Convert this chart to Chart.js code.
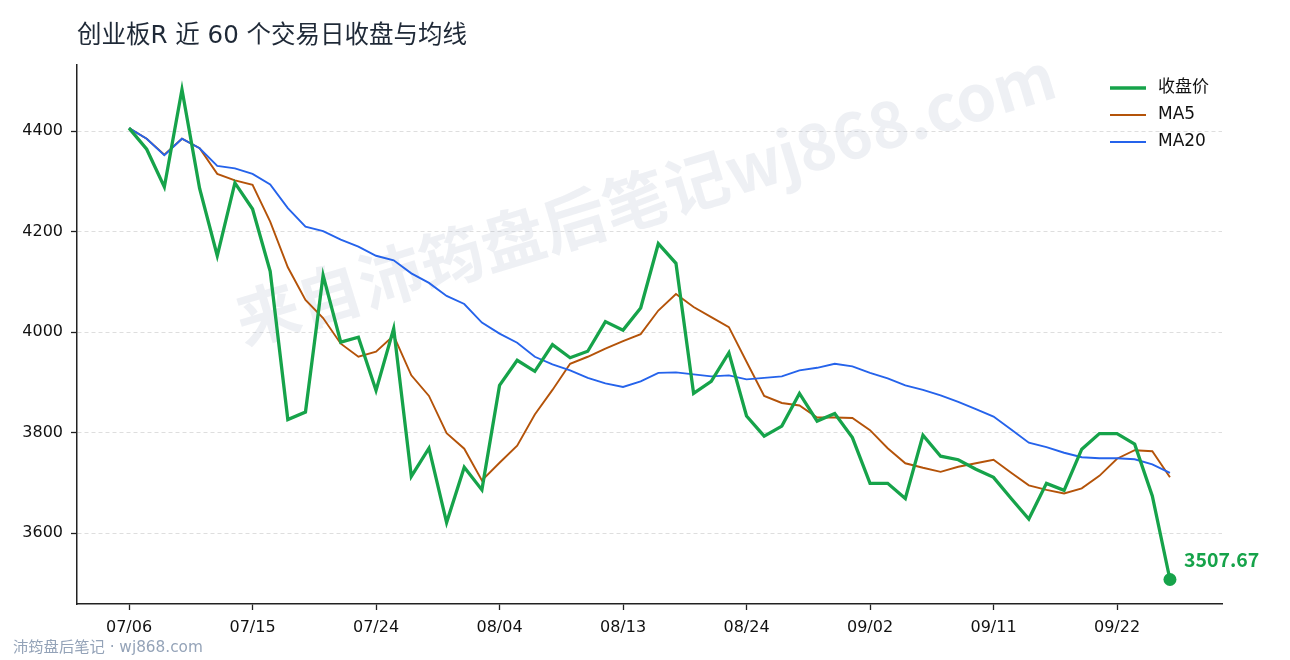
<!DOCTYPE html>
<html>
<head>
<meta charset="utf-8">
<script src="https://cdn.jsdelivr.net/npm/chart.js@4.4.1/dist/chart.umd.min.js"></script>
<style>
html,body{margin:0;padding:0;background:#fff;}
#c{display:block;}
</style>
</head>
<body>
<canvas id="c" width="1290" height="660"></canvas>
<script>
// data
const dates = ["07/06","07/07","07/08","07/09","07/10","07/13","07/14","07/15","07/16","07/17",
  "07/20","07/21","07/22","07/23","07/24","07/27","07/28","07/29","07/30","07/31",
  "08/03","08/04","08/05","08/06","08/07","08/10","08/11","08/12","08/13","08/14",
  "08/17","08/18","08/19","08/20","08/21","08/24","08/25","08/26","08/27","08/28",
  "08/31","09/01","09/02","09/03","09/04","09/07","09/08","09/09","09/10","09/11",
  "09/14","09/15","09/16","09/17","09/18","09/21","09/22","09/23","09/24","09/25"];
const closeVals = [4406,4364,4289,4483,4286,4152,4297,4245,4121,3826,
  3841,4113,3980,3990,3884,4007,3713,3769,3621,3731,
  3686,3894,3944,3922,3975,3949,3962,4021,4004,4048,
  4176,4137,3878,3902,3959,3833,3793,3813,3878,3823,
  3838,3790,3699,3699,3669,3795,3753,3746,3727,3711,
  3669,3628,3699,3685,3767,3798,3798,3777,3674,3507.67];
const ma5Vals = [4406,4385,4353,4385,4366,4315,4302,4293,4220,4129,
  4064,4028,3977,3951,3961,3993,3914,3873,3799,3768,
  3705,3740,3774,3836,3885,3937,3951,3967,3982,3996,
  4043,4076,4050,4030,4010,3941,3873,3859,3854,3830,
  3830,3829,3805,3769,3739,3730,3722,3732,3739,3746,
  3720,3695,3686,3679,3689,3714,3748,3765,3763,3711];
const ma20Vals = [4406,4385,4352,4385,4366,4331,4326,4315,4294,4247,
  4210,4201,4184,4170,4152,4143,4117,4098,4072,4056,
  4019,3997,3979,3951,3936,3924,3909,3898,3891,3902,
  3919,3920,3916,3912,3914,3906,3909,3912,3924,3929,
  3937,3932,3919,3908,3894,3885,3874,3861,3847,3832,
  3806,3780,3771,3760,3751,3749,3749,3747,3737,3720];
const seriesNames = ["收盘价","MA5","MA20"];
const yTickVals = [3600,3800,4000,4200,4400];
const xTickIdx = [0,7,14,21,28,35,42,49,56];
const titleText = "创业板R 近 60 个交易日收盘与均线";
const footerText = "沛筠盘后笔记 · wj868.com";
const watermarkText = "来自沛筠盘后笔记wj868.com";

// latin from DejaVu, CJK falls back to Noto
const FONT = '"DejaVu Sans","Noto Sans CJK SC",sans-serif';
const CJK = '"Noto Sans CJK SC","DejaVu Sans",sans-serif';
const GREEN = '#16a34a', ORANGE = '#b45309', BLUE = '#2563eb';

function pts(arr){ return arr.map((v,i)=>({x:i, y:v})); }
const last = closeVals.length - 1;

// titles, watermark, legend and last value label
const decor = {
  id: 'decor',
  beforeDatasetsDraw(chart){
    const ctx = chart.ctx;
    ctx.save();
    ctx.translate(645, 198);
    ctx.rotate(-17*Math.PI/180);
    ctx.font = 'bold 64px ' + CJK;
    ctx.fillStyle = 'rgba(160,170,195,0.18)';
    ctx.textAlign = 'center'; ctx.textBaseline = 'middle';
    ctx.fillText(watermarkText, 0, 0);
    ctx.restore();
  },
  afterDraw(chart){
    const ctx = chart.ctx;
    ctx.save();
    ctx.textBaseline = 'middle'; ctx.textAlign = 'left';
    ctx.font = '24.5px ' + FONT; ctx.fillStyle = '#1f2937';
    ctx.fillText(titleText, 77, 37);
    ctx.font = '15.3px ' + FONT; ctx.fillStyle = '#94a3b8';
    ctx.fillText(footerText, 13, 648);

    // legend inside the plot, top right
    [0,1,2].forEach((k,r)=>{
      const ds = chart.data.datasets[k];
      const y = 88 + r*27;
      ctx.strokeStyle = ds.borderColor; ctx.lineWidth = ds.borderWidth;
      ctx.beginPath(); ctx.moveTo(1110, y); ctx.lineTo(1146, y); ctx.stroke();
      ctx.fillStyle = '#111'; ctx.font = '17px ' + FONT;
      ctx.fillText(ds.label, 1158, y);
    });

    // label for the last close
    const p = chart.getDatasetMeta(0).data[last];
    ctx.font = 'bold 19.5px ' + CJK; ctx.fillStyle = GREEN;
    ctx.fillText(closeVals[last].toFixed(2), p.x + 14, p.y - 20);
    ctx.restore();
  }
};

new Chart(document.getElementById('c'), {
  type: 'line',
  data: {
    datasets: [
      { label: seriesNames[0], data: pts(closeVals), borderColor: GREEN, backgroundColor: GREEN, borderWidth: 3.3, order: 0,
        pointRadius: ctx => ctx.dataIndex === last ? 6.5 : 0, pointBorderWidth: 0, pointBackgroundColor: GREEN },
      { label: seriesNames[1], data: pts(ma5Vals), borderColor: ORANGE, borderWidth: 1.9, pointRadius: 0, order: 2 },
      { label: seriesNames[2], data: pts(ma20Vals), borderColor: BLUE, borderWidth: 1.9, pointRadius: 0, order: 1 }
    ]
  },
  options: {
    responsive: false,
    animation: false,
    devicePixelRatio: 1,
    layout: { padding: { top: 65, right: 68, bottom: 0, left: 0 } },
    elements: { line: { tension: 0 } },
    plugins: { legend: { display: false }, tooltip: { enabled: false }, title: { display: false } },
    scales: {
      x: {
        type: 'linear', min: -2.95, max: last + 2.95,
        afterBuildTicks: s => { s.ticks = xTickIdx.map(v => ({value: v})); },
        afterFit: s => { s.height = 56; },
        ticks: { color: '#111', font: { family: FONT, size: 16 }, padding: 8,
          callback: v => dates[v] || '', maxRotation: 0, autoSkip: false },
        grid: { drawOnChartArea: false, drawTicks: true, tickLength: 6, tickColor: '#222', tickWidth: 1.3 },
        border: { display: true, color: '#222', width: 1.5 }
      },
      y: {
        min: 3458.9, max: 4531.7,
        afterBuildTicks: s => { s.ticks = yTickVals.map(v => ({value: v})); },
        afterFit: s => { s.width = 77; },
        ticks: { color: '#111', font: { family: FONT, size: 16 }, padding: 8, callback: v => String(v) },
        grid: { color: '#dedede', lineWidth: 1, drawTicks: true, tickLength: 6, tickColor: '#222', tickWidth: 1.3 },
        border: { display: true, color: '#222', width: 1.5, dash: [4, 3] }
      }
    }
  },
  plugins: [decor]
});
</script>
</body>
</html>
